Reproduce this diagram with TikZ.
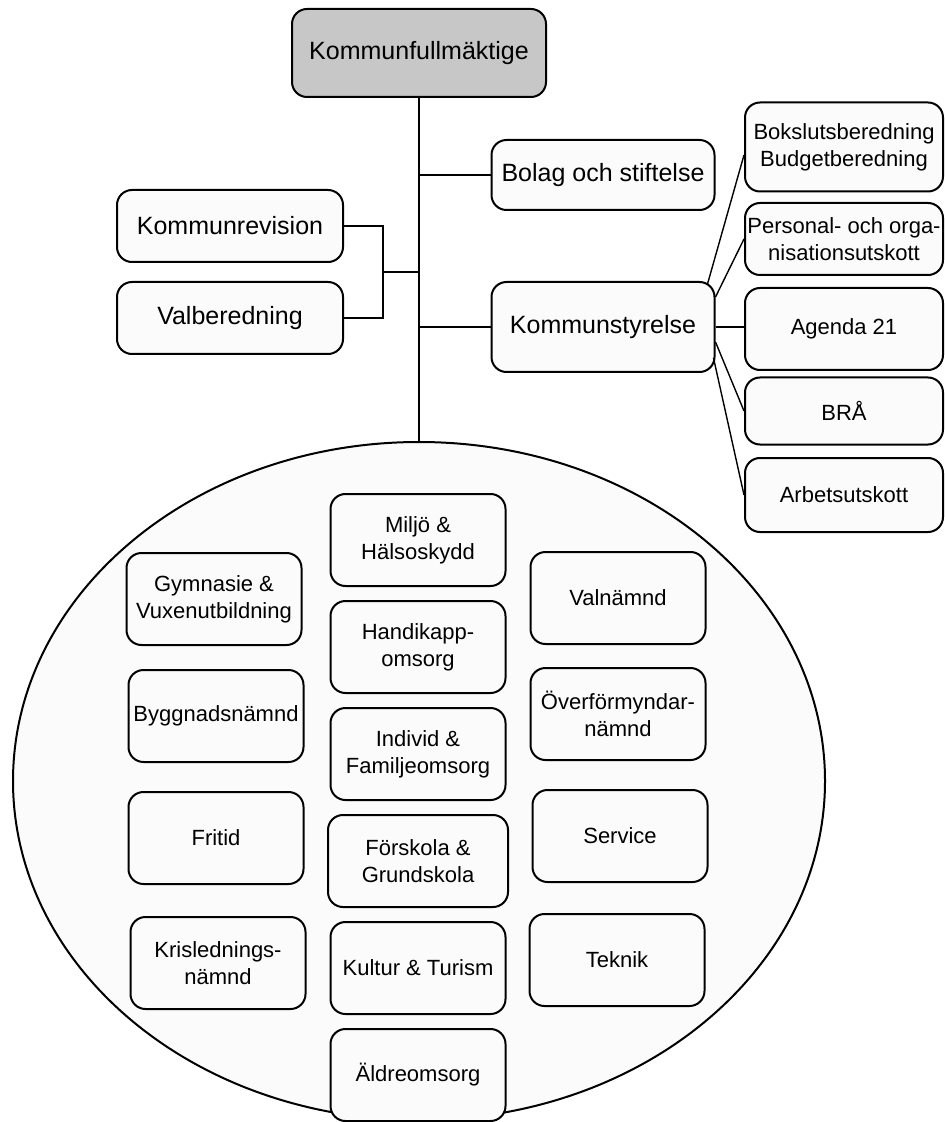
\documentclass[tikz,border=0pt]{standalone}
\usepackage{fontspec}
\setmainfont{Liberation Sans}
\usepackage{tikz}
\usetikzlibrary{shapes.geometric, positioning}
\definecolor{boxfill}{gray}{0.985}
\definecolor{topfill}{gray}{0.78}

\begin{document}
\begin{tikzpicture}[
    x=0.5pt, y=-0.5pt,
    unit/.style={rectangle, rounded corners=7.5pt, draw=black, line width=1pt, fill=boxfill, align=center, inner sep=1pt, font=\fontsize{11}{13.5}\selectfont},
    board/.style={unit, minimum width=87.5pt, minimum height=46pt},
    side/.style={unit, minimum width=99pt},
    head/.style={unit, font=\fontsize{12.5}{15}\selectfont},
    link/.style={line width=1pt},
    spoke/.style={line width=0.7pt}
]
    \useasboundingbox (0,0) rectangle (944,1122);

    \node[ellipse, draw=black, line width=1pt, fill=boxfill, minimum width=406pt, minimum height=339pt] (namnder) at (419,781) {};

    \node[head, fill=topfill, minimum width=127pt, minimum height=44pt] (kf) at (419,53) {Kommunfullmäktige};
    \node[head, minimum width=111.5pt, minimum height=35pt] (bolag) at (603,175) {Bolag och stiftelse};
    \node[head, minimum width=111.5pt, minimum height=45pt] (ks) at (603,327) {Kommunstyrelse};
    \node[head, minimum width=113pt, minimum height=36pt] (revision) at (230,226) {Kommunrevision};
    \node[head, minimum width=113pt, minimum height=36pt, below=9pt of revision] (valber) {Valberedning};

    \node[side, minimum height=44.5pt] (bokslut) at (844,147) {Bokslutsberedning\\Budgetberedning};
    \node[side, minimum height=36pt] (personal) at (844,239) {Personal- och orga-\\nisationsutskott};
    \node[side, minimum height=41pt] (agenda) at (844,329) {Agenda 21};
    \node[side, minimum height=33.5pt] (bra) at (844,411) {BRÅ};
    \node[side, minimum height=37pt] (arbete) at (844,495) {Arbetsutskott};

    \node[board] (gymnasie) at (214,599) {Gymnasie \&\\Vuxenutbildning};
    \node[board] (bygg) at (216,716) {Byggnadsnämnd};
    \node[board] (fritid) at (216,838) {Fritid};
    \node[board] (kris) at (218,963) {Krislednings-\\nämnd};

    \node[board] (miljo) at (418,540) {Miljö \&\\Hälsoskydd};
    \node[board, below=6.5pt of miljo] (handikapp) {Handikapp-\\omsorg};
    \node[board, below=6.5pt of handikapp] (individ) {Individ \&\\Familjeomsorg};
    \node[board, minimum width=90pt, below=6.5pt of individ] (forskola) {Förskola \&\\Grundskola};
    \node[board, below=6.5pt of forskola] (kultur) {Kultur \& Turism};
    \node[board, below=6.5pt of kultur] (aldre) {Äldreomsorg};

    \node[board] (valnamnd) at (618,598) {Valnämnd};
    \node[board] (overform) at (618,714) {Överförmyndar-\\nämnd};
    \node[board] (service) at (620,836) {Service};
    \node[board] (teknik) at (617,960) {Teknik};

    \draw[line width=0.6pt] (kf) -- (namnder.north);
    \draw[link] (bolag.west) -- (bolag.west -| kf.south);
    \draw[link] (ks.west) -- (ks.west -| kf.south);
    \draw[link] (revision.east) -- ++(39,0) |- (valber.east);
    \coordinate (join) at (382,272);
    \draw[link] (join) -- (join -| kf.south);

    \draw[spoke] ([xshift=-4pt,yshift=-1.5pt]ks.north east) -- ([yshift=-4pt]bokslut.west);
    \draw[spoke] ([yshift=15pt]ks.east) -- (personal.west);
    \draw[link] (ks.east) -- (ks.east -| agenda.west);
    \draw[spoke] ([yshift=-7.5pt]ks.east) -- (bra.west);
    \draw[spoke] ([xshift=-1pt,yshift=-15.5pt]ks.east) -- (arbete.west);
\end{tikzpicture}
\end{document}
